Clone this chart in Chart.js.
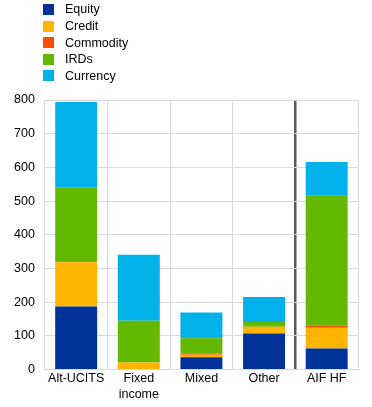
<!DOCTYPE html>
<html lang="en">
  <head>
    <meta charset="UTF-8" />
    <title>Derivatives exposure</title>
    <style>
      html, body { margin: 0; padding: 0; background: white; }
      #wrap { width: 372px; height: 407px; position: relative; }
    </style>
    <script src="https://cdn.jsdelivr.net/npm/chart.js@4"></script>
  </head>
  <body>
    <div id="wrap"><canvas id="myChart"></canvas></div>
    <script>
      // data
      const categories = ['Alt-UCITS', ['Fixed', 'income'], 'Mixed', 'Other', 'AIF HF'];
      const equity    = [187, 0, 36, 107, 62];
      const credit    = [131, 21, 8, 20, 62];
      const commodity = [3, 0, 3, 0, 6];
      const irds      = [219, 124, 46, 14, 386];
      const currency  = [254, 196, 76, 74, 100];

      const seriesNames = ['Equity', 'Credit', 'Commodity', 'IRDs', 'Currency'];
      const seriesColors = ['#003299', '#FFB400', '#FF4B00', '#65B800', '#00B1EA'];
      const seriesData = [equity, credit, commodity, irds, currency];

      Chart.defaults.font.family = "'Liberation Sans', Arial, sans-serif";
      Chart.defaults.font.size = 12.5;
      Chart.defaults.color = '#000';

      // legend drawn as a vertical list in the top-left corner
      const listLegend = {
        id: 'listLegend',
        afterDraw(chart) {
          const ctx = chart.ctx;
          ctx.save();
          ctx.font = "12.5px 'Liberation Sans', Arial, sans-serif";
          ctx.textBaseline = 'middle';
          chart.data.datasets.forEach((ds, i) => {
            const y = 9.5 + i * 16.6;
            ctx.fillStyle = ds.backgroundColor;
            ctx.fillRect(43, Math.round(y - 5.5), 11, 11);
            ctx.fillStyle = '#000';
            ctx.fillText(ds.label, 65, y + 0.5);
          });
          ctx.restore();
        }
      };

      const ctx = document.getElementById('myChart').getContext('2d');
      const myChart = new Chart(ctx, {
        type: 'bar',
        data: {
          labels: categories,
          datasets: seriesNames.map((name, i) => ({
            label: name,
            data: seriesData[i],
            backgroundColor: seriesColors[i],
            borderWidth: 0,
            barPercentage: 0.67,
            categoryPercentage: 1
          }))
        },
        options: {
          responsive: true,
          maintainAspectRatio: false,
          animation: false,
          layout: { padding: { left: 4, right: 14, top: 100, bottom: 3 } },
          plugins: {
            legend: { display: false },
            tooltip: { enabled: false }
          },
          scales: {
            x: {
              stacked: true,
              grid: {
                offset: true,
                drawTicks: false,
                color: c => c.index === 4 ? '#595959' : '#d9d9d9',
                lineWidth: c => c.index === 4 ? 2.5 : 1
              },
              border: { color: '#d9d9d9' },
              ticks: { padding: 1, font: { size: 12.5, lineHeight: 1.3 }, maxRotation: 0 }
            },
            y: {
              stacked: true,
              min: 0,
              max: 800,
              grid: { color: '#d9d9d9', drawTicks: false },
              border: { color: '#d9d9d9' },
              ticks: { stepSize: 100, padding: 10 }
            }
          }
        },
        plugins: [listLegend]
      });
    </script>
  </body>
</html>
